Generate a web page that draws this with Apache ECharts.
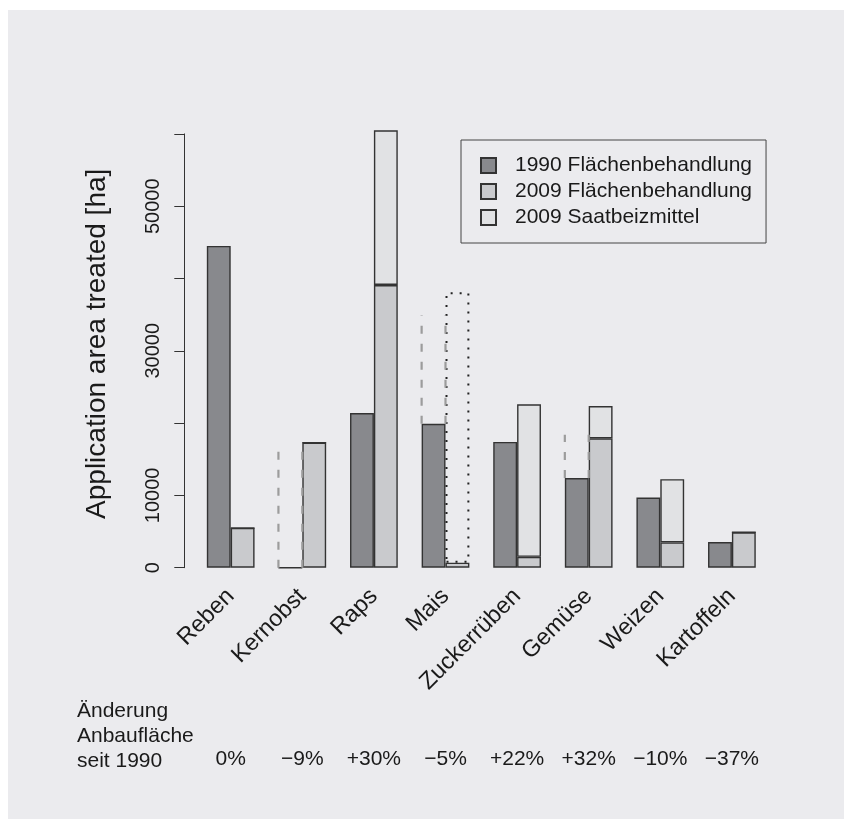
<!DOCTYPE html>
<html><head><meta charset="utf-8">
<script src="https://cdn.jsdelivr.net/npm/echarts@6/dist/echarts.min.js"></script>
<style>
html,body{margin:0;padding:0;background:#fff}
#c{width:844px;height:819px;background:linear-gradient(#ebebee,#ebebee) 8px 10px/836px 809px no-repeat,#fff}
</style>
</head><body><div id="c"></div>
<script>
const categories = ['Reben','Kernobst','Raps','Mais','Zuckerrüben','Gemüse','Weizen','Kartoffeln'];
const area1990 = [44500, 0, 21400, 19900, 17400, 12400, 9700, 3550];
const area2009Flaeche = [5500, 17300, 39100, 700, 1500, 17900, 3500, 4900];
const area2009Saat = [0, 0, 21400, 37400, 21100, 4450, 8750, 0];
const saatEstimated = [false, false, false, true, false, false, false, false];
const range1990High = [null, 16100, null, 34900, null, 18400, null, null];
const changeLabels = ['0%', '−9%', '+30%', '−5%', '+22%', '+32%', '−10%', '−37%'];
const rowLabels = ['Änderung', 'Anbaufläche', 'seit 1990'];
const yTickLabels = [0, 10000, 30000, 50000];
const seriesNames = ['1990 Flächenbehandlung', '2009 Flächenbehandlung', '2009 Saatbeizmittel'];

const FONT = "'Liberation Sans', Arial, Helvetica, sans-serif";
const TXT = '#1a1a1a';
const EDGE = '#333333';

const rangeData = [];
range1990High.forEach((h, i) => { if (h != null) rangeData.push([i, area1990[i], h]); });

const chart = echarts.init(document.getElementById('c'), null, {renderer: 'canvas'});
chart.setOption({
  animation: false,
  backgroundColor: 'transparent',
  textStyle: {fontFamily: FONT, color: TXT},
  grid: {left: 194.9, right: 76.3, top: 133.9, bottom: 251.3, containLabel: false},
  legend: {
    data: seriesNames,
    orient: 'vertical', left: 461, top: 140,
    itemWidth: 15, itemHeight: 15, itemGap: 5,
    padding: [15, 14, 15, 19],
    borderColor: '#444', borderWidth: 1,
    icon: 'rect', selectedMode: false,
    textStyle: {fontSize: 21, color: TXT, fontFamily: FONT, padding: [0, 0, 0, 14]}
  },
  xAxis: [{
    type: 'category', data: categories,
    axisLine: {show: false}, axisTick: {show: false},
    axisLabel: {rotate: 45, fontSize: 23.5, margin: 25, color: TXT, interval: 0, fontFamily: FONT}
  }, {
    type: 'category', data: changeLabels, position: 'bottom', offset: 173,
    axisLine: {show: false}, axisTick: {show: false},
    axisLabel: {fontSize: 21, margin: 8, color: TXT, interval: 0, fontFamily: FONT}
  }],
  yAxis: {
    type: 'value', min: 0, max: 60000, interval: 10000, offset: 10.6,
    axisLine: {show: true, lineStyle: {color: '#333', width: 1}},
    axisTick: {show: true, length: 10, lineStyle: {color: '#333'}},
    splitLine: {show: false},
    axisLabel: {rotate: 90, margin: 21, fontSize: 20, color: TXT, fontFamily: FONT,
      formatter: v => yTickLabels.includes(v) ? String(v) : ''},
    name: 'Application area treated [ha]', nameLocation: 'middle', nameRotate: 90, nameGap: 73,
    nameTextStyle: {fontSize: 28, color: TXT, fontFamily: FONT, padding: [0, 0, 0, 14]}
  },
  graphic: [{
    type: 'text', left: 77, top: 699,
    style: {text: rowLabels.join('\n'), font: '21px ' + FONT, fill: TXT, lineHeight: 25}
  }],
  series: [{
    name: seriesNames[0], type: 'bar', stack: 'y1990', data: area1990,
    barGap: '0%', barCategoryGap: '33.33%', clip: false,
    itemStyle: {color: '#88898d', borderColor: EDGE, borderWidth: 1.4},
    emphasis: {disabled: true}
  }, {
    name: seriesNames[1], type: 'bar', stack: 'y2009', data: area2009Flaeche,
    barGap: '0%', barCategoryGap: '33.33%', clip: false,
    itemStyle: {color: '#c9cacd', borderColor: EDGE, borderWidth: 1.4},
    emphasis: {disabled: true}
  }, {
    name: seriesNames[2], type: 'bar', stack: 'y2009',
    data: area2009Saat.map((v, i) => saatEstimated[i]
      ? {value: v, itemStyle: {color: 'rgba(0,0,0,0)', borderColor: '#222', borderWidth: 2, borderType: [2, 7]}}
      : v),
    barGap: '0%', barCategoryGap: '33.33%', clip: false,
    itemStyle: {color: '#e1e2e4', borderColor: EDGE, borderWidth: 1.4},
    emphasis: {disabled: true}
  }, {
    type: 'custom', data: rangeData, encode: {x: 0, y: [1, 2]}, z: 3,
    renderItem: function (params, api) {
      const i = api.value(0);
      const lo = api.coord([i, api.value(1)]);
      const hi = api.coord([i, api.value(2)]);
      const bw = api.size([1, 0])[0] / 3;
      return {type: 'group', children: [lo[0] - bw, lo[0]].map(x => ({
        type: 'line', shape: {x1: x, y1: lo[1], x2: x, y2: hi[1]},
        style: {stroke: '#9c9c9c', lineWidth: 2.2, lineDash: [8, 10]}
      }))};
    }
  }]
});
</script>
</body></html>
